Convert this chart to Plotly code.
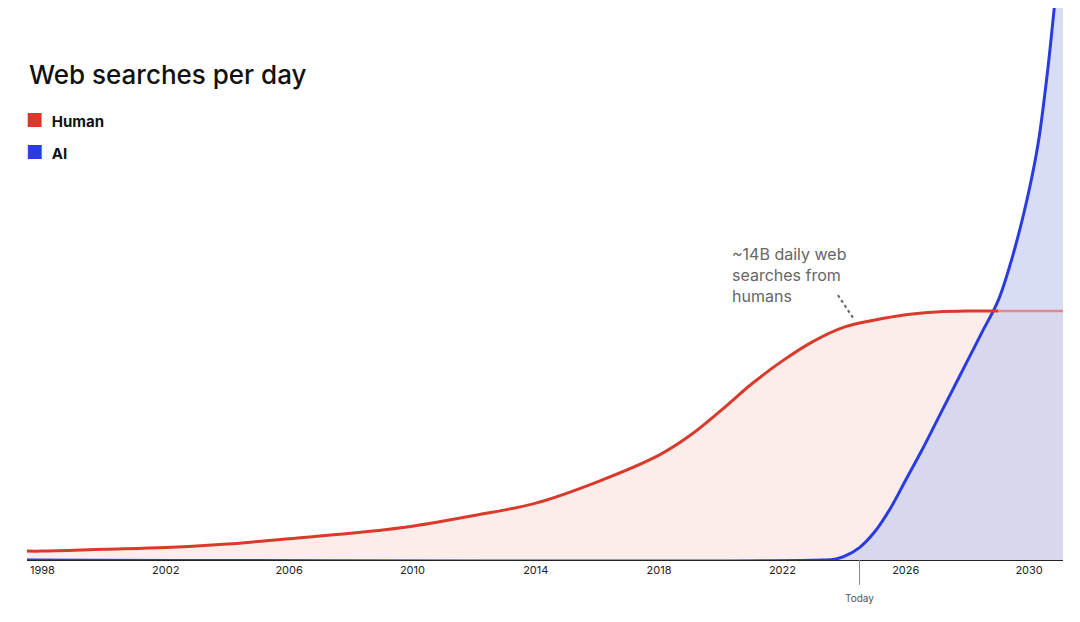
import plotly.graph_objects as go

years_h = [1997.5, 1998, 2000, 2002, 2004, 2006, 2008, 2010, 2012, 2014, 2016, 2018, 2019, 2020, 2021, 2022, 2023, 2024, 2025, 2026, 2027, 2028, 2029]
human = [0.5, 0.5, 0.6, 0.7, 0.9, 1.2, 1.5, 1.9, 2.5, 3.2, 4.4, 5.9, 7.0, 8.4, 9.9, 11.2, 12.3, 13.1, 13.5, 13.8, 13.95, 14.0, 14.0]
years_h2 = [2029, 2030, 2031.1]
human2 = [14.0, 14.0, 14.0]
years_ai = [1997.5, 2023.3, 2023.7, 2024, 2024.5, 2025, 2025.5, 2026, 2026.5, 2027, 2027.5, 2028, 2028.5, 2029, 2029.5, 2030, 2030.3, 2030.6, 2030.9, 2031.1]
ai = [0, 0, 0.05, 0.2, 0.7, 1.6, 2.9, 4.5, 6.1, 7.8, 9.5, 11.2, 12.9, 14.6, 17.3, 20.8, 23.5, 27.5, 32.5, 36]
ticks = [1998, 2002, 2006, 2010, 2014, 2018, 2022, 2026, 2030]

H = 552.0  # plot height in px
def py(pix):
    return 1 - (pix - 8) / H

fig = go.Figure()
fig.add_trace(go.Scatter(x=years_h + years_h2[1:], y=human + human2[1:], mode="lines", line=dict(width=0, shape="spline"),
                         fill="tozeroy", fillcolor="rgba(250,225,220,0.6)", hoverinfo="skip"))
fig.add_trace(go.Scatter(x=years_ai, y=ai, mode="lines", line=dict(color="#2a3be0", width=3, shape="spline"),
                         fill="tozeroy", fillcolor="rgba(200,205,240,0.7)"))
fig.add_trace(go.Scatter(x=years_h2, y=human2, mode="lines", line=dict(color="#e08a8a", width=2.5)))
fig.add_trace(go.Scatter(x=years_h, y=human, mode="lines", line=dict(color="#d93a2b", width=3, shape="spline")))

fig.update_layout(
    width=1080, height=622, margin=dict(l=19, r=25, t=0, b=70),
    paper_bgcolor="white", plot_bgcolor="white", showlegend=False,
    font=dict(family="Inter, sans-serif", color="#111"),
    xaxis=dict(range=[1997.5, 2031.1], tickvals=ticks, ticktext=[str(t) for t in ticks],
               showgrid=False, zeroline=False, showline=True, linecolor="#222", linewidth=1,
               tickfont=dict(size=11, color="#222"), ticks=""),
    yaxis=dict(range=[0, 31.5 * H / 560], visible=False),
)
fig.add_annotation(xref="paper", yref="paper", x=0, y=py(75), xanchor="left", yanchor="middle",
                   text="Web searches per day", showarrow=False, font=dict(size=26, color="#111", weight=500))
for i, (name, col) in enumerate([("Human", "#d93a2b"), ("AI", "#2a3be0")]):
    fig.add_annotation(xref="paper", yref="paper", x=-0.003, y=py(120 + 32 * i), xanchor="left", yanchor="middle",
                       text="<span style='color:%s;font-size:19px'>■</span>  <b>%s</b>" % (col, name), showarrow=False,
                       font=dict(size=15, color="#111"))
fig.add_annotation(x=2020.3, y=14.2, xanchor="left", yanchor="bottom", align="left",
                   text="~14B daily web<br>searches from<br>humans", showarrow=False,
                   font=dict(size=16, color="#666"))
fig.add_shape(type="line", x0=2023.8, y0=14.9, x1=2024.3, y1=13.6, line=dict(color="#666", width=2, dash="dot"))
fig.add_shape(type="line", xref="x", yref="paper", x0=2024.5, x1=2024.5, y0=0, y1=-0.045, line=dict(color="#888", width=1))
fig.add_annotation(xref="x", yref="paper", x=2024.5, y=-0.055, yanchor="top", text="Today", showarrow=False,
                   font=dict(size=10, color="#555"))
fig.write_html("out.html")
